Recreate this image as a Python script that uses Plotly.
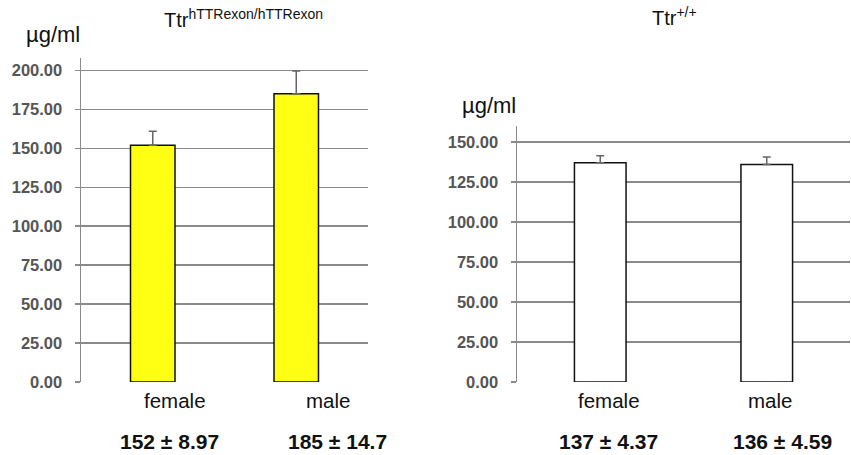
import plotly.graph_objects as go

categories = ["female", "male"]
knockin_means = [152, 185]
knockin_sem = [8.97, 14.7]
wildtype_means = [137, 136]
wildtype_sem = [4.37, 4.59]
left_ticks = [0, 25, 50, 75, 100, 125, 150, 175, 200]
right_ticks = [0, 25, 50, 75, 100, 125, 150]
left_title = "Ttr<sup>hTTRexon/hTTRexon</sup>"
right_title = "Ttr<sup>+/+</sup>"
unit = "µg/ml"

W, H = 851, 455
FONT = "Liberation Sans, Arial, sans-serif"
GRID = "#8a8a8a"

def px_x(a, b):
    return [a / W, b / W]

def px_y(top, bottom):
    return [(H - bottom) / H, (H - top) / H]

fig = go.Figure()

fig.add_trace(go.Bar(
    x=categories, y=knockin_means, width=0.31,
    marker=dict(color="#ffff14", line=dict(color="#111111", width=1.5)),
    error_y=dict(type="data", symmetric=False, array=knockin_sem,
                 arrayminus=[0] * len(knockin_sem), color="#666666",
                 thickness=1.5, width=4),
    xaxis="x", yaxis="y", showlegend=False, hoverinfo="skip",
))
fig.add_trace(go.Bar(
    x=categories, y=wildtype_means, width=0.31,
    marker=dict(color="#ffffff", line=dict(color="#111111", width=1.5)),
    error_y=dict(type="data", symmetric=False, array=wildtype_sem,
                 arrayminus=[0] * len(wildtype_sem), color="#666666",
                 thickness=1.5, width=4),
    xaxis="x2", yaxis="y2", showlegend=False, hoverinfo="skip",
))

tickfont = dict(family=FONT, size=16.5, color="#555555", weight="bold")
common_y = dict(showgrid=True, gridcolor=GRID, gridwidth=1.5, showline=True,
                linecolor=GRID, linewidth=1.5, ticks="outside", ticklen=5,
                tickcolor=GRID, tickwidth=1.5, tickformat=".2f",
                tickfont=tickfont, zeroline=False, tickmode="array",
                automargin=False, ticklabelstandoff=9)
common_x = dict(showticklabels=False, showgrid=False, zeroline=False,
                showline=False, ticks="", type="category", automargin=False)

fig.update_layout(
    width=W, height=H,
    margin=dict(l=0, r=0, t=0, b=0, autoexpand=False),
    paper_bgcolor="white", plot_bgcolor="white",
    bargap=0.69,
    xaxis=dict(domain=px_x(81, 368), anchor="y", range=[-0.5, 1.5], **common_x),
    yaxis=dict(domain=px_y(58, 382), anchor="x", range=[0, 208],
               tickvals=left_ticks, **common_y),
    xaxis2=dict(domain=px_x(517, 850), anchor="y2", range=[-0.5, 1.5], **common_x),
    yaxis2=dict(domain=px_y(126, 382), anchor="x2", range=[0, 160],
                tickvals=right_ticks, **common_y),
)

ann = []
catfont = dict(family=FONT, size=20.5, color="#111111")
valfont = dict(family=FONT, size=21, color="#111111")
# category labels and value summaries, positioned via the category axes
for xref, means, sems, shifts_c, shifts_v in [
    ("x", knockin_means, knockin_sem, [22, 32], [17, 41]),
    ("x2", wildtype_means, wildtype_sem, [9, 3], [8, 16]),
]:
    for i, c in enumerate(categories):
        ann.append(dict(x=c, xref=xref, y=400, yref="paper", text=c,
                        showarrow=False, font=catfont, xshift=shifts_c[i]))
        ann.append(dict(x=c, xref=xref, y=441, yref="paper",
                        text=f"<b>{means[i]} ± {sems[i]}</b>",
                        showarrow=False, font=valfont, xshift=shifts_v[i]))
for a in ann:
    a["y"] = (H - a["y"]) / H
    a["yanchor"] = "middle"

titlefont = dict(family=FONT, size=20, color="#111111")
unitfont = dict(family=FONT, size=22, color="#111111")
ann += [
    dict(x=162 / W, y=(H - 19) / H, xref="paper", yref="paper", text=left_title,
         showarrow=False, font=titlefont, xanchor="left", yanchor="middle"),
    dict(x=650 / W, y=(H - 17) / H, xref="paper", yref="paper", text=right_title,
         showarrow=False, font=titlefont, xanchor="left", yanchor="middle"),
    dict(x=53 / W, y=(H - 35) / H, xref="paper", yref="paper", text=unit,
         showarrow=False, font=unitfont, xanchor="center", yanchor="middle"),
    dict(x=489 / W, y=(H - 106) / H, xref="paper", yref="paper", text=unit,
         showarrow=False, font=unitfont, xanchor="center", yanchor="middle"),
]
fig.update_layout(annotations=ann)

fig.write_html(
    "out.html",
    config={"displayModeBar": False, "staticPlot": True},
    post_script="document.body.style.margin='0';document.body.style.overflow='hidden';",
)
